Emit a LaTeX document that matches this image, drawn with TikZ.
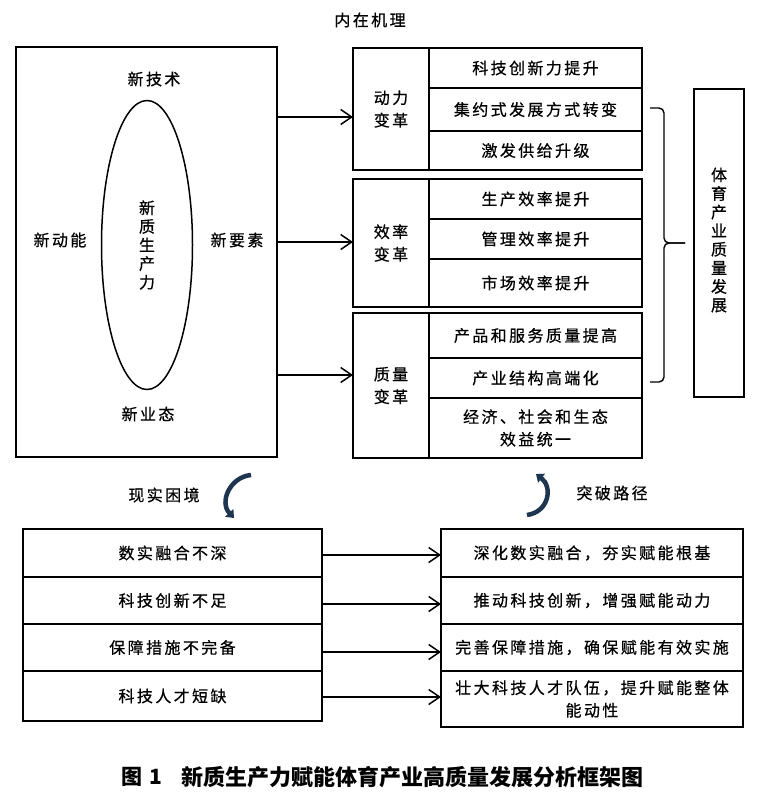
\documentclass[tikz,border=0pt]{standalone}
\usepackage{fontspec}
\usetikzlibrary{arrows.meta,shapes.geometric}
\newfontfamily\cjk{Noto Sans CJK SC}[LetterSpace=15,FakeBold=0.6]
\newfontfamily\cjkn{Noto Sans CJK SC}[FakeBold=0.6]
\newfontfamily\cjkc{Noto Sans CJK SC}
\definecolor{navy}{HTML}{1E3550}
\tikzset{
  box/.style={draw, line width=1.5pt, inner sep=0pt, outer sep=0pt, anchor=north west, align=center,
              font=\cjk\fontsize{16}{22.5}\selectfont},
  txt/.style={inner sep=0pt, align=center, font=\cjk\fontsize{16}{22.5}\selectfont},
  vtxt/.style={inner sep=0pt, align=center, font=\cjkn\fontsize{16}{18.6}\selectfont},
  arr/.style={line width=1.5pt, -{Straight Barb[length=11pt,width=15pt,line width=1.5pt]}},
  turn/.style={navy, line width=4.5pt, -{Triangle[length=7pt,width=11pt]}},
}
\begin{document}
\begin{tikzpicture}[x=1pt,y=-1pt]
\useasboundingbox (0,0) rectangle (768,800);
\fill[white] (0,0) rectangle (768,800);

% title
\node[txt] (title) at (370,20) {内在机理};

% left big box
\node[box, minimum width=261, minimum height=410] (outer) at (16,47) {};
\node[ellipse, draw, line width=1.5pt, minimum width=91, minimum height=289, inner sep=0pt, vtxt] (core) at (147,245) {新\\质\\生\\产\\力};
\node[txt] (tech) at (154,79) {新技术};
\node[txt] (dyn) at (60,240) {新动能};
\node[txt] (elem) at (237,240) {新要素};
\node[txt] (form) at (148,414) {新业态};

% group 1
\node[box, minimum width=76, minimum height=122] (g1) at (353,48) {动力\\变革};
\node[box, minimum width=213, minimum height=40] (g1a) at (429,48) {科技创新力提升};
\node[box, minimum width=213, minimum height=43] (g1b) at (429,88) {集约式发展方式转变};
\node[box, minimum width=213, minimum height=39] (g1c) at (429,131) {激发供给升级};
% group 2
\node[box, minimum width=76, minimum height=128] (g2) at (353,179) {效率\\变革};
\node[box, minimum width=213, minimum height=40] (g2a) at (429,179) {生产效率提升};
\node[box, minimum width=213, minimum height=40] (g2b) at (429,219) {管理效率提升};
\node[box, minimum width=213, minimum height=48] (g2c) at (429,259) {市场效率提升};
% group 3
\node[box, minimum width=76, minimum height=145] (g3) at (353,313) {质量\\变革};
\node[box, minimum width=213, minimum height=45] (g3a) at (429,313) {产品和服务质量提高};
\node[box, minimum width=213, minimum height=40] (g3b) at (429,358) {产业结构高端化};
\node[box, minimum width=213, minimum height=60] (g3c) at (429,398) {经济、社会和生态\\效益统一};

% arrows to groups
\draw[arr] (outer.east |- 0,117) -- (g1.west |- 0,117);
\draw[arr] (outer.east |- 0,242) -- (g2.west |- 0,242);
\draw[arr] (outer.east |- 0,375) -- (g3.west |- 0,375);

% brace and goal
\coordinate (tip) at (685,243);
\draw[line width=1.4pt, rounded corners=5pt] (g1b.east |- 0,108) ++(8,0) -| (664,243) -- (tip);
\draw[line width=1.4pt, rounded corners=5pt] (g3b.east |- 0,382) ++(8,0) -| (664,243) -- (tip);
\node[box, minimum width=50, minimum height=308] (goal) at (694,89) {};
\node[vtxt] (goaltxt) at (719,240) {体\\育\\产\\业\\质\\量\\发\\展};

% cycle arrows and labels
\node[txt] (dilemma) at (164,495) {现实困境};
\node[txt] (path) at (612,493) {突破路径};
\coordinate (la) at (251,475);
\coordinate (lb) at (234,518);
\draw[turn] (la) .. controls (230,477) and (219,502) .. (lb);
\coordinate (ra) at (527,515);
\coordinate (rb) at (536,474);
\draw[turn] (ra) .. controls (549,512) and (553,487) .. (rb);

% bottom left boxes
\node[box, minimum width=299, minimum height=48] (p1) at (23,529) {数实融合不深};
\node[box, minimum width=299, minimum height=47] (p2) at (23,577) {科技创新不足};
\node[box, minimum width=299, minimum height=47] (p3) at (23,624) {保障措施不完备};
\node[box, minimum width=299, minimum height=50] (p4) at (23,671) {科技人才短缺};
% bottom right boxes
\node[box, minimum width=302, minimum height=48] (s1) at (441,529) {深化数实融合，夯实赋能根基};
\node[box, minimum width=302, minimum height=47] (s2) at (441,577) {推动科技创新，增强赋能动力};
\node[box, minimum width=302, minimum height=47] (s3) at (441,624) {完善保障措施，确保赋能有效实施};
\node[box, minimum width=302, minimum height=56] (s4) at (441,671) {壮大科技人才队伍，提升赋能整体\\能动性};

\draw[arr] (p1.east |- 0,555) -- (s1.west |- 0,555);
\draw[arr] (p2.east |- 0,604) -- (s2.west |- 0,604);
\draw[arr] (p3.east |- 0,652) -- (s3.west |- 0,652);
\draw[arr] (p4.east |- 0,697) -- (s4.west |- 0,697);

% caption
\node[anchor=west, inner sep=0pt, font=\cjkc\bfseries\fontsize{21}{24}\selectfont] (fig) at (121,777) {图\hspace{7pt}1};
\node[anchor=west, inner sep=0pt, font=\cjkc\bfseries\fontsize{22}{24}\selectfont] (cap) at (181,777) {新质生产力赋能体育产业高质量发展分析框架图};
\end{tikzpicture}
\end{document}
